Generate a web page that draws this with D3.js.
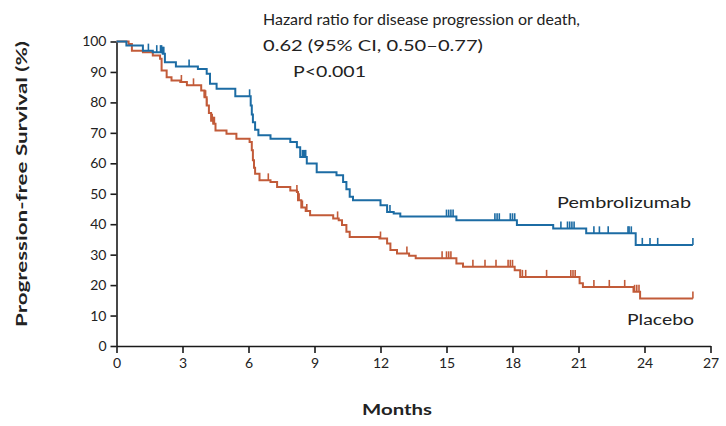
<!DOCTYPE html>
<html>
<head>
<meta charset="utf-8">
<script src="https://cdn.jsdelivr.net/npm/d3@7"></script>
<style>
  html, body { margin: 0; padding: 0; background: #fff; }
  svg { display: block; }
  text { font-family: Lato, "Open Sans", sans-serif; fill: #222; }
</style>
</head>
<body>
<svg id="chart" width="726" height="426"></svg>
<script>
// Kaplan-Meier step points: [month, survival % after the event]
const pembroSteps = [
  [0, 100], [0.45, 98.7], [1.2, 97.0], [1.65, 96.5], [2.1, 96.0], [2.2, 93.2],
  [2.7, 91.8], [3.7, 91.0], [4.1, 89.4], [4.25, 86.1], [4.55, 84.5], [5.4, 82.0],
  [6.1, 79.0], [6.15, 76.0], [6.2, 73.5], [6.3, 71.0], [6.45, 69.2], [7.0, 68.1],
  [7.9, 67.0], [8.2, 65.3], [8.35, 62.1], [8.65, 59.9], [9.1, 57.1], [10.0, 56.1],
  [10.3, 53.9], [10.45, 51.5], [10.6, 49.0], [10.75, 47.9], [12.0, 46.2], [12.3, 44.0],
  [12.6, 43.5], [12.9, 42.5], [15.45, 41.3], [18.2, 39.7], [19.85, 38.6], [21.35, 37.0],
  [23.6, 33.2]
];
const placeboSteps = [
  [0, 100], [0.55, 99.2], [0.7, 97.0], [1.2, 96.5], [1.65, 95.4], [1.98, 94.3],
  [2.05, 90.5], [2.28, 88.3], [2.5, 87.2], [2.9, 86.7], [3.2, 85.6], [3.85, 83.9],
  [4.0, 81.7], [4.1, 79.0], [4.2, 76.5], [4.3, 74.0], [4.4, 73.0], [4.5, 70.8],
  [5.0, 69.7], [5.45, 68.1], [6.05, 67.0], [6.15, 64.3], [6.2, 61.0], [6.25, 58.5],
  [6.3, 56.6], [6.5, 54.4], [7.0, 53.9], [7.3, 52.2], [7.9, 51.1], [8.2, 50.6],
  [8.25, 47.9], [8.4, 45.5], [8.6, 44.3], [8.8, 42.9], [9.85, 41.9], [10.1, 41.3],
  [10.25, 39.7], [10.45, 37.5], [10.6, 35.8], [11.95, 35.3], [12.3, 33.7], [12.45, 31.5],
  [12.75, 30.4], [13.3, 29.6], [13.6, 28.8], [15.45, 27.1], [15.75, 26.0], [18.1, 24.9],
  [18.35, 22.7], [21.05, 20.6], [21.2, 19.4], [23.5, 17.8], [23.8, 15.6]
];
// Censoring times (months)
const pembroCensored = [
  1.45, 1.83, 2.0, 2.05, 2.1, 2.15, 3.3, 6.05, 8.45, 8.5, 8.55, 8.6, 12.43,
  15.0, 15.1, 15.2, 15.3, 17.2, 17.3, 17.4, 17.9, 18.0, 18.1,
  20.2, 20.5, 20.6, 20.7, 20.8, 21.7, 21.95, 22.35, 23.25, 23.3, 23.4,
  23.9, 24.25, 24.6, 26.2
];
const placeboCensored = [
  2.95, 3.5, 4.0, 4.05, 4.1, 4.35, 4.4, 4.45, 6.9, 8.2, 8.3, 8.45, 8.65, 10.05,
  12.0, 13.2, 14.8, 15.0, 15.1, 15.2, 16.2, 16.75, 17.25, 17.8, 17.9, 18.0,
  18.45, 18.6, 19.55, 20.65, 20.75, 20.85, 21.7, 22.4, 23.1, 23.55, 23.65, 23.75, 26.2
];
const followUpEnd = 26.2;

const xTicks = [0, 3, 6, 9, 12, 15, 18, 21, 24, 27];
const yTicks = [0, 10, 20, 30, 40, 50, 60, 70, 80, 90, 100];

const colors = { pembro: "#1c6ca4", placebo: "#c25b39" };

const svg = d3.select("#chart");
const x = d3.scaleLinear().domain([0, 27]).range([116.5, 710.5]);
const y = d3.scaleLinear().domain([0, 100]).range([346, 41.5]);

// Axes
const yAxis = svg.append("g")
  .attr("transform", `translate(${x(0)},0)`)
  .call(d3.axisLeft(y).tickValues(yTicks).tickSize(6).tickSizeOuter(0).tickPadding(4));
const xAxis = svg.append("g")
  .attr("transform", `translate(0,${y(0)})`)
  .call(d3.axisBottom(x).tickValues(xTicks).tickSize(7).tickSizeOuter(0).tickPadding(5));
[xAxis, yAxis].forEach(g => {
  g.selectAll("path, line").attr("stroke", "#1a1a1a").attr("stroke-width", 1.6);
  g.selectAll("text").attr("font-size", 14)
    .style("font-family", 'Lato, "Open Sans", sans-serif')
    .attr("fill", "#222");
});

// Survival lookup on a step curve
function levelAt(steps, t) {
  let s = steps[0][1];
  for (const [tt, v] of steps) { if (tt <= t) s = v; else break; }
  return s;
}

const line = d3.line().x(d => x(d[0])).y(d => y(d[1])).curve(d3.curveStepAfter);

function drawCurve(steps, censored, color) {
  const pts = steps.concat([[followUpEnd, steps[steps.length - 1][1]]]);
  svg.append("path").datum(pts)
    .attr("d", line)
    .attr("fill", "none")
    .attr("stroke", color)
    .attr("stroke-width", 2);
  svg.append("g").selectAll("line").data(censored).join("line")
    .attr("x1", d => x(d)).attr("x2", d => x(d))
    .attr("y1", d => y(levelAt(steps, d)))
    .attr("y2", d => y(levelAt(steps, d)) - 7)
    .attr("stroke", color)
    .attr("stroke-width", 1.6);
}

drawCurve(placeboSteps, placeboCensored, colors.placebo);
drawCurve(pembroSteps, pembroCensored, colors.pembro);

// Labels
function label(txt, xPos, yPos, size, len, opts = {}) {
  const t = svg.append("text")
    .attr("x", xPos).attr("y", yPos)
    .attr("font-size", size)
    .text(txt);
  if (len) t.attr("textLength", len).attr("lengthAdjust", "spacingAndGlyphs");
  if (opts.weight) t.attr("font-weight", opts.weight);
  if (opts.anchor) t.attr("text-anchor", opts.anchor);
  return t;
}

label("Hazard ratio for disease progression or death,", 263, 25, 15, 317);
label("0.62 (95% CI, 0.50\u20130.77)", 263, 51, 15, 220);
label("P<0.001", 293, 77, 15, 73);
label("Pembrolizumab", 557, 208, 15, 134);
label("Placebo", 627, 325, 15, 67);
label("Months", 397, 415, 15, 70, { weight: "bold", anchor: "middle" });

svg.append("text")
  .attr("transform", "translate(27,184) rotate(-90)")
  .attr("text-anchor", "middle")
  .attr("font-size", 15)
  .attr("font-weight", "bold")
  .attr("textLength", 286)
  .attr("lengthAdjust", "spacingAndGlyphs")
  .text("Progression-free Survival (%)");
</script>
</body>
</html>
